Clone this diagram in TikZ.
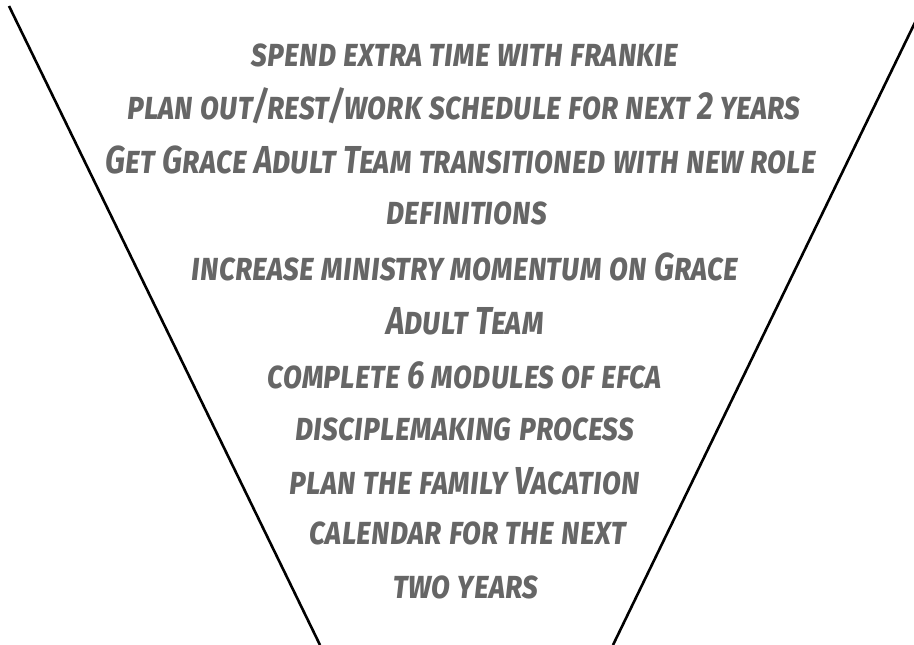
\documentclass[tikz,border=0pt]{standalone}
\usepackage{fontspec}
\setmainfont{Fira Sans}[UprightFont=*-Bold Italic, Letters=SmallCaps, FakeStretch=0.81]
\definecolor{inkgrey}{HTML}{666666}
\begin{document}
\begin{tikzpicture}[x=1pt,y=-1pt,
  goal/.style={text=inkgrey, font=\fontsize{39}{39}\selectfont, anchor=center, inner sep=0pt},
  funnel/.style={line width=2.6pt, black}]
\useasboundingbox (0,0) rectangle (914,645);
\begin{scope}
\clip (0,0) rectangle (914,645);
\coordinate (lt) at (9,6);
\coordinate (lb) at (320,645);
\coordinate (rt) at (922,8);
\coordinate (rb) at (613,645);
\draw[funnel] (lt) -- (lb);
\draw[funnel] (rt) -- (rb);
\end{scope}
\node[goal] (t1) at (465,55) {spend extra time with frankie};
\node[goal] (t2) at (464,106) {plan out/rest/work schedule for next 2 years};
\node[goal] (t3) at (461,160) {Get Grace Adult Team transitioned with new role};
\node[goal] (t4) at (467,213) {definitions};
\node[goal] (t5) at (465,267) {increase ministry momentum on Grace};
\node[goal] (t6) at (465,321) {Adult Team};
\node[goal] (t7) at (465,375) {complete 6 modules of efca};
\node[goal] (t8) at (465,429) {disciplemaking process};
\node[goal] (t9) at (465,481) {plan the family Vacation};
\node[goal] (t10) at (468,533) {calendar for the next};
\node[goal] (t11) at (466,587) {two years};
\end{tikzpicture}
\end{document}
